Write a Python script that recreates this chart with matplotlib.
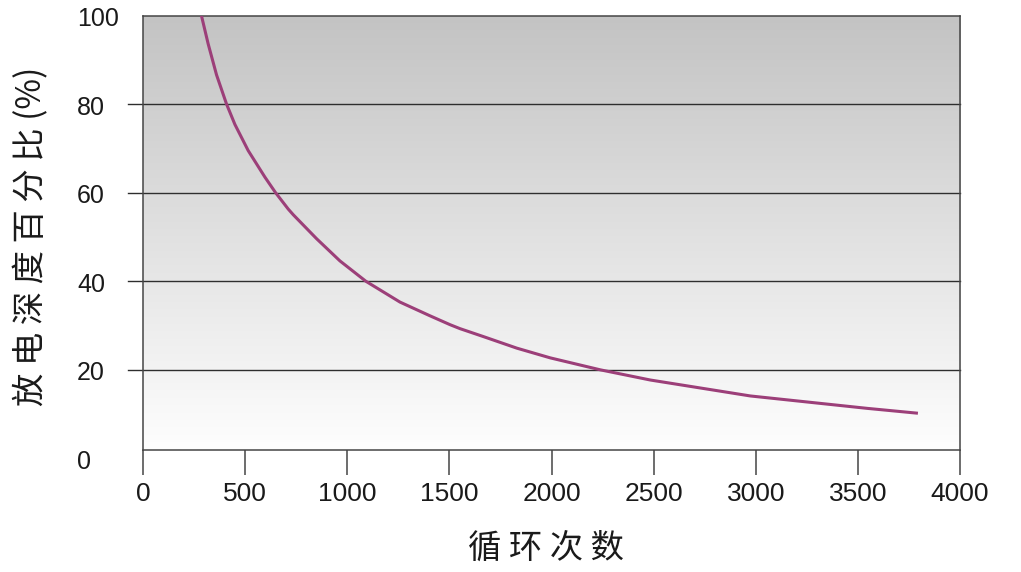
import numpy as np
import matplotlib
matplotlib.use("Agg")
import matplotlib.pyplot as plt
from matplotlib.colors import LinearSegmentedColormap
import matplotlib.transforms as mtransforms

# ---- data ----
cycles = [286, 319, 360, 409, 450, 515, 597, 649, 711, 736, 850, 964, 1091,
          1258, 1405, 1503, 1552, 1667, 1830, 1994, 2239, 2484, 2729, 2974,
          3219, 3546, 3794]
dod = [100, 93.6, 86.6, 80, 75.4, 69.5, 63.5, 60, 56.3, 55.0, 49.6, 44.6, 40,
       35.3, 32.2, 30.2, 29.3, 27.5, 24.9, 22.7, 20.0, 17.7, 15.9, 14.1,
       12.9, 11.3, 10.2]
x_ticks = [0, 500, 1000, 1500, 2000, 2500, 3000, 3500, 4000]
y_ticks = [0, 20, 40, 60, 80, 100]
y_grid = [20, 40, 60, 80]
x_label = "循 环 次 数"
y_label = "放 电 深 度 百 分 比 (%)"

cjk = ["Noto Sans CJK SC", "DejaVu Sans"]
num_font = "Liberation Sans"

fig = plt.figure(figsize=(10.21, 5.72), dpi=100)
fig.patch.set_facecolor("white")
ax = fig.add_axes([143 / 1021, 1 - 450 / 572, 817 / 1021, (450 - 15.5) / 572])

# gradient background
cmap = LinearSegmentedColormap.from_list("bg", ["#fefefe", "#c3c3c3"])
grad = np.linspace(0, 1, 256).reshape(-1, 1)
ax.imshow(grad, cmap=cmap, aspect="auto", extent=[0, 1, 0, 1],
          transform=ax.transAxes, origin="lower", zorder=0)

ax.set_xlim(0, 4000)
ax.set_ylim(1.9, 100)

# grid lines extending slightly to the left of the frame
trans = mtransforms.blended_transform_factory(ax.transAxes, ax.transData)
for g in y_grid:
    ax.plot([-0.018, 1], [g, g], transform=trans, color="#2e2e2e",
            lw=1.0, clip_on=False, zorder=2)

ax.plot(cycles, dod, color="#9c3f79", lw=2.2, solid_capstyle="butt",
        solid_joinstyle="round", zorder=3)

for s in ax.spines.values():
    s.set_color("#454545")
    s.set_linewidth(1.1)

ax.set_xticks(x_ticks)
ax.set_xticklabels([str(t) for t in x_ticks], fontsize=19, family=num_font,
                   color="#1a1a1a")
ax.tick_params(axis="x", direction="out", length=18, width=1.1,
               color="#454545", pad=5)

ax.set_yticks([])
for t in y_ticks:
    ax.text(-0.0808, t - 0.8, str(t), transform=trans, ha="left", va="center",
            fontsize=18, family=num_font, color="#1a1a1a", clip_on=False)

fig.text(546 / 1021, 1 - 548 / 572, x_label, ha="center", va="center",
         fontsize=24, family=cjk, color="#1a1a1a")
fig.text(32 / 1021, 1 - 236 / 572, y_label, ha="center", va="center",
         rotation=90, fontsize=24, family=cjk, color="#1a1a1a")

fig.savefig("out.png", dpi=100)
